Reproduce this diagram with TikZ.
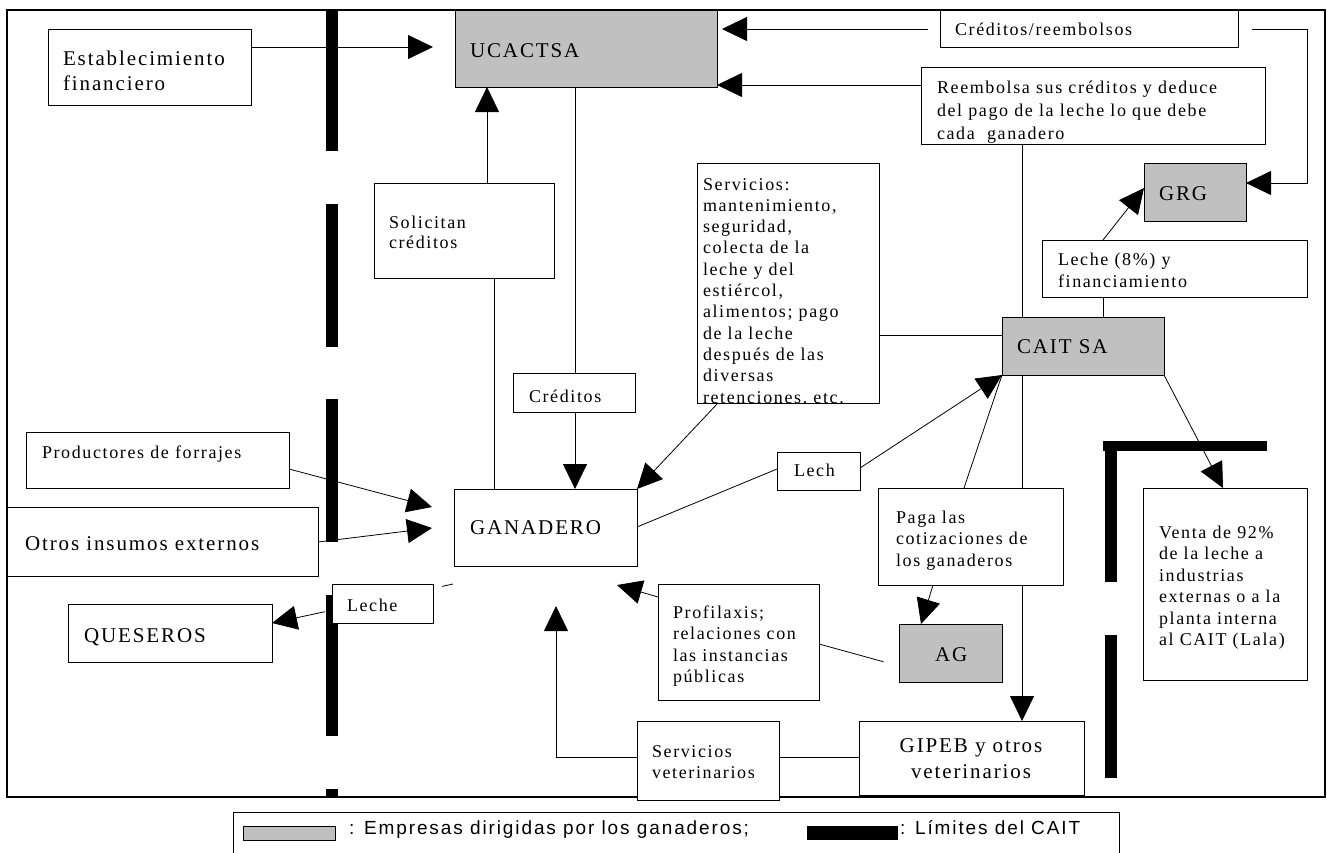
\documentclass[tikz,border=0pt]{standalone}
\usepackage{fontspec}
\newfontfamily\serf{Liberation Serif}[LetterSpace=9]
\newfontfamily\sanf{Liberation Sans}[LetterSpace=10]
\usetikzlibrary{arrows.meta}
\definecolor{boxgray}{HTML}{C0C0C0}
\pgfdeclarelayer{bg}
\pgfdeclarelayer{mid}
\pgfsetlayers{bg,mid,main}
\newcommand\rbox[6]{\node[#2, minimum width={(#5-#3)*1pt}, minimum height={(#6-#4)*1pt}] (#1) at (#3,#4) {};}
\newcommand\smf{\serf\fontsize{18}{21.5}\selectfont}
\newcommand\bgf{\serf\fontsize{21}{25}\selectfont}
\tikzset{
  box/.style={draw, line width=1pt, fill=white, inner sep=0pt, outer sep=0pt, anchor=north west},
  gbox/.style={box, fill=boxgray},
  conn/.style={line width=0.8pt},
  arr/.style={conn, -{Triangle[length=25pt,width=24pt]}},
  txts/.style={inner sep=0pt, outer sep=0pt, anchor=base west, align=left, font=\smf},
  txtb/.style={inner sep=0pt, outer sep=0pt, anchor=base west, align=left, font=\bgf},
  framel/.style={line width=1.2pt},
}
\begin{document}
\begin{tikzpicture}[x=1pt,y=-1pt]
\useasboundingbox (0,0) rectangle (1327,852);
\clip (0,0) rectangle (1327,852);
% boxes
\rbox{estab}{box}{48}{29}{251}{105}
\rbox{ucac}{gbox}{455}{10}{717}{87}
\rbox{cr}{box}{940}{10}{1238}{47}
\rbox{reemb}{box}{921}{67}{1265}{144}
\rbox{grg}{gbox}{1144}{163}{1246}{221}
\rbox{lf}{box}{1042}{240}{1307}{297}
\rbox{sol}{box}{374}{183}{554}{278}
\rbox{serv}{box}{697}{163}{879}{403}
\rbox{cred}{box}{513}{373}{635}{412}
\rbox{cait}{gbox}{1002}{317}{1164}{375}
\rbox{lech}{box}{777}{452}{860}{490}
\rbox{gan}{box}{454}{489}{637}{566}
\rbox{prod}{box}{26}{432}{289}{488}
\rbox{otros}{box}{7}{507}{318}{576}
\rbox{ques}{box}{68}{604}{272}{662}
\rbox{lq}{box}{332}{584}{433}{623}
\rbox{paga}{box}{878}{488}{1063}{585}
\rbox{ag}{gbox}{899}{624}{1002}{682}
\rbox{venta}{box}{1143}{488}{1307}{680}
\rbox{prof}{box}{658}{584}{819}{700}
\rbox{sv}{box}{637}{721}{779}{800}
\rbox{gipeb}{box}{859}{721}{1084}{795}
% free ends
\coordinate (tipE) at (433,47);
\coordinate (tipP) at (617,585);
\coordinate (tipV) at (556,606);
\coordinate (tipPr) at (432,507);
\coordinate (tipO) at (432,528);
\coordinate (lqa) at (453,584);
\coordinate (lqb) at (442,586.4);
\coordinate (lqc) at (325,611.7);
\begin{pgfonlayer}{bg}
\draw[framel] (7,10) rectangle (1325,797);
\draw[arr] (estab.east |- 0,47) -- (tipE);
\draw[arr, shorten <=12pt, shorten >=5pt] (cr.west |- 0,29) -- (ucac.east |- 0,29);
\draw[arr, shorten <=14pt] (cr.east |- 0,29) -| (1307,183) -- (grg.east |- 0,183);
\draw[arr] (cait.north -| 1022,0) |- (ucac.east |- 0,85);
\draw[conn] (gan.north -| 494,0) -- (sol.south -| 494,0);
\draw[arr] (sol.north -| 487,0) -- (ucac.south -| 487,0);
\draw[arr] (ucac.south -| 575,0) -- (gan.north -| 575,0);
\draw[conn] (cait.west |- 0,335) -- (serv.east |- 0,335);
\draw[arr] (serv.south -| 718,0) -- (gan.north east);
\draw[conn] (gan.east |- 0,527) -- (lech.west |- 0,469);
\draw[arr] (lech.east |- 0,468) -- (cait.south west);
\draw[conn] (paga.north -| 964,0) -- (cait.south west);
\draw[arr] (paga.south -| 933,0) -- (ag.north -| 921,0);
\draw[arr] (cait.south -| 1022,0) -- (gipeb.north -| 1022,0);
\draw[conn, shorten <=16pt] (ag.west |- 0,666) -- (prof.east |- 0,644);
\draw[arr] (prof.west |- 0,597) -- (tipP);
\draw[conn] (gipeb.west |- 0,757) -- (sv.east |- 0,757);
\draw[arr] (sv.west |- 0,757) -| (tipV);
\draw[conn] (cait.north -| 1103,0) -- (lf.south -| 1103,0);
\draw[arr] (lf.north -| 1103,0) -- (grg.west |- 0,188);
\draw[arr] (cait.south east) -- (venta.north -| 1223,0);
\draw[arr] (prod.east |- 0,469) -- (tipPr);
\draw[arr] (otros.east |- 0,542) -- (tipO);
\draw[conn] (lqa) -- (lqb);
\draw[arr] (lqc) -- (ques.east |- 0,623);
\end{pgfonlayer}
\begin{pgfonlayer}{mid}
\fill (326,10) rectangle (338,151);
\fill (326,204) rectangle (338,347);
\fill (326,399) rectangle (338,542);
\fill (326,595) rectangle (338,736);
\fill (326,789) rectangle (338,797);
\fill (1103,441) rectangle (1267,451);
\fill (1105,441) rectangle (1117,582);
\fill (1105,635) rectangle (1117,778);
\end{pgfonlayer}
% texts (a multi-line node's base is its last line)
\node[txtb] (t-estab) at (63,90) {Establecimiento\\financiero};
\node[txtb] (t-ucac) at (470,57) {UCACTSA};
\node[txts] (t-cr) at (955,35) {Créditos/reembolsos};
\begin{scope}
\clip (reemb.north west) rectangle (reemb.south east);
\node[txts, font=\serf\fontsize{18}{23}\selectfont] (t-reemb) at (937,139) {Reembolsa sus créditos y deduce\\del pago de la leche lo que debe\\cada~ ganadero};
\end{scope}
\node[txtb] (t-grg) at (1159,200) {GRG};
\node[txts, font=\serf\fontsize{18}{22}\selectfont] (t-lf) at (1058,287) {Leche (8\%) y\\financiamiento};
\node[txts, font=\serf\fontsize{18}{20.5}\selectfont] (t-sol) at (389,248.5) {Solicitan\\créditos};
\begin{scope}
\clip (serv.north west) rectangle (serv.south east);
\node[txts, font=\serf\fontsize{18}{21.3}\selectfont] (t-serv) at (703,403) {Servicios:\\mantenimiento,\\seguridad,\\colecta de la\\leche y del\\estiércol,\\alimentos; pago\\de la leche\\después de las\\diversas\\retenciones, etc.};
\end{scope}
\node[txts] (t-cred) at (529,402) {Créditos};
\node[txtb] (t-cait) at (1017,353) {CAIT SA};
\node[txts] (t-lech) at (794,476) {Lech};
\node[txtb] (t-gan) at (470,534) {GANADERO};
\node[txts] (t-prod) at (42,458) {Productores de forrajes};
\node[txtb] (t-otros) at (25,550) {Otros insumos externos};
\node[txtb] (t-ques) at (84,642) {QUESEROS};
\node[txts] (t-lq) at (347,611) {Leche};
\node[txts] (t-paga) at (896,566) {Paga las\\cotizaciones de\\los ganaderos};
\node[txtb] (t-ag) at (935,661) {AG};
\node[txts] (t-venta) at (1159,645.5) {Venta de 92\%\\de la leche a\\industrias\\externas o a la\\planta interna\\al CAIT (Lala)};
\node[txts] (t-prof) at (673,682.5) {Profilaxis;\\relaciones con\\las instancias\\públicas};
\node[txts, font=\serf\fontsize{18}{21}\selectfont] (t-sv) at (652,778) {Servicios\\veterinarios};
\node[txtb, anchor=base, align=center, font=\serf\fontsize{21}{26}\selectfont] (t-gipeb) at (971,778) {GIPEB y otros\\veterinarios};
% legend
\draw[line width=1pt] (233,880) -- (233,812) -- (1119,812) -- (1119,880);
\node[draw, line width=0.6pt, fill=boxgray, inner sep=0pt, anchor=north west, minimum width=92pt, minimum height=14pt] (sw1) at (243,826) {};
\node[inner sep=0pt, anchor=base west, font=\sanf\fontsize{19}{22}\selectfont] (l1) at (349,834) {: Empresas dirigidas por los ganaderos;};
\node[fill=black, inner sep=0pt, anchor=north west, minimum width=91pt, minimum height=14pt] (sw2) at (807,826) {};
\node[inner sep=0pt, anchor=base west, font=\sanf\fontsize{19}{22}\selectfont] (l2) at (900,834) {: Límites del CAIT};
\end{tikzpicture}
\end{document}
